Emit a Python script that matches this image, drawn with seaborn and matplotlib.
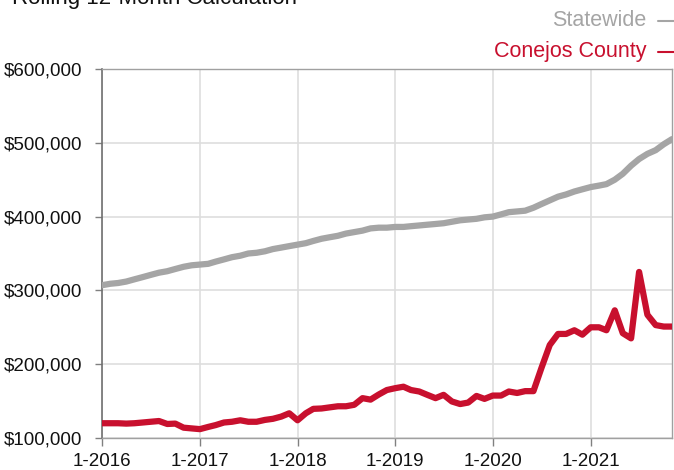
import numpy as np
import pandas as pd
import matplotlib
matplotlib.use("Agg")
import matplotlib.pyplot as plt
from matplotlib.lines import Line2D
import seaborn as sns

# ---- data (thousands of $) ----
start_month = "2016-01"
statewide = [
    307, 309, 310, 312, 315, 318, 321, 324, 326, 329, 332, 334,
    335, 336, 339, 342, 345, 347, 350, 351, 353, 356, 358, 360,
    362, 364, 367, 370, 372, 374, 377, 379, 381, 384, 385, 385,
    386, 386, 387, 388, 389, 390, 391, 393, 395, 396, 397, 399,
    400, 403, 406, 407, 408, 412, 417, 422, 427, 430, 434, 437,
    440, 442, 444, 450, 458, 469, 478, 485, 490, 498, 505,
]
conejos = [
    120, 120, 120, 119.5, 120, 121, 122, 123, 119, 119.5, 114, 113,
    112, 115, 117.5, 121, 122, 124, 122, 122, 124.5, 126, 129, 133.5,
    124, 133.5, 139.5, 140, 141.5, 143, 143, 145, 154, 152, 159, 165,
    167.5, 169.5, 165, 163, 158.5, 154, 158.5, 149.5, 146, 148, 157, 153,
    157.5, 157.5, 163, 161, 163.5, 163.5, 195, 226, 241, 241, 246, 240,
    250, 250, 246, 273, 242, 235, 325, 267, 253, 251, 251,
]
series_names = ["Statewide", "Conejos County"]
x_tick_labels = ["1-2016", "1-2017", "1-2018", "1-2019", "1-2020", "1-2021"]
y_ticks = [100000, 200000, 300000, 400000, 500000, 600000]
title = "Rolling 12-Month Calculation"

dates = pd.date_range(start_month, periods=len(statewide), freq="MS")
df = pd.DataFrame({
    "date": np.concatenate([dates, dates]),
    "value": np.array(statewide + conejos, dtype=float) * 1000,
    "series": [series_names[0]] * len(statewide) + [series_names[1]] * len(conejos),
})

GRAY = "#a5a5a5"
RED = "#c8102e"

sns.set_style("white")
plt.rcParams["font.family"] = ["Liberation Sans", "DejaVu Sans"]

fig = plt.figure(figsize=(6.74, 4.70), dpi=100)
ax = fig.add_axes([102 / 674, 1 - 438 / 470, 570 / 674, (438 - 69) / 470])

sns.lineplot(data=df, x="date", y="value", hue="series",
             palette={series_names[0]: GRAY, series_names[1]: RED},
             linewidth=4.5, legend=False, ax=ax, zorder=3)

ax.set_xlim(dates[0], dates[-1])
ax.set_ylim(y_ticks[0], y_ticks[-1])
ax.set_yticks(y_ticks)
ax.set_yticklabels([f"${v:,.0f}" for v in y_ticks])
jan_ticks = [d for d in dates if d.month == 1]
ax.set_xticks(jan_ticks)
ax.set_xticklabels(x_tick_labels)
ax.set_xlabel("")
ax.set_ylabel("")

ax.grid(True, color="#dedede", linewidth=1.2, zorder=0)
ax.set_axisbelow(True)
for side in ["top", "right", "bottom"]:
    ax.spines[side].set_color("#a0a0a0")
    ax.spines[side].set_linewidth(1.0)
ax.spines["left"].set_color("#707070")
ax.spines["left"].set_linewidth(1.2)
ax.tick_params(axis="y", length=5, width=1, color="#808080", pad=9,
               labelsize=13.5, labelcolor="#111111", left=True)
ax.tick_params(axis="x", length=6, width=1, color="#808080", pad=4.5,
               labelsize=13.5, labelcolor="#111111", bottom=True)

# title (partly cut off at top)
fig.text(12 / 674, 1 - 4 / 470, title, fontsize=16, color="#111111",
         ha="left", va="baseline")

# legend at top right
fig.text(646 / 674, 1 - 26.5 / 470, series_names[0], fontsize=15.5, color=GRAY,
         ha="right", va="baseline")
fig.text(646 / 674, 1 - 57 / 470, series_names[1], fontsize=15.5, color=RED,
         ha="right", va="baseline")
fig.add_artist(Line2D([658 / 674, 1.0], [1 - 20.5 / 470] * 2, color=GRAY,
                      lw=1.5, transform=fig.transFigure))
fig.add_artist(Line2D([658 / 674, 1.0], [1 - 51.5 / 470] * 2, color=RED,
                      lw=1.5, transform=fig.transFigure))

fig.savefig("out.png", dpi=100)
